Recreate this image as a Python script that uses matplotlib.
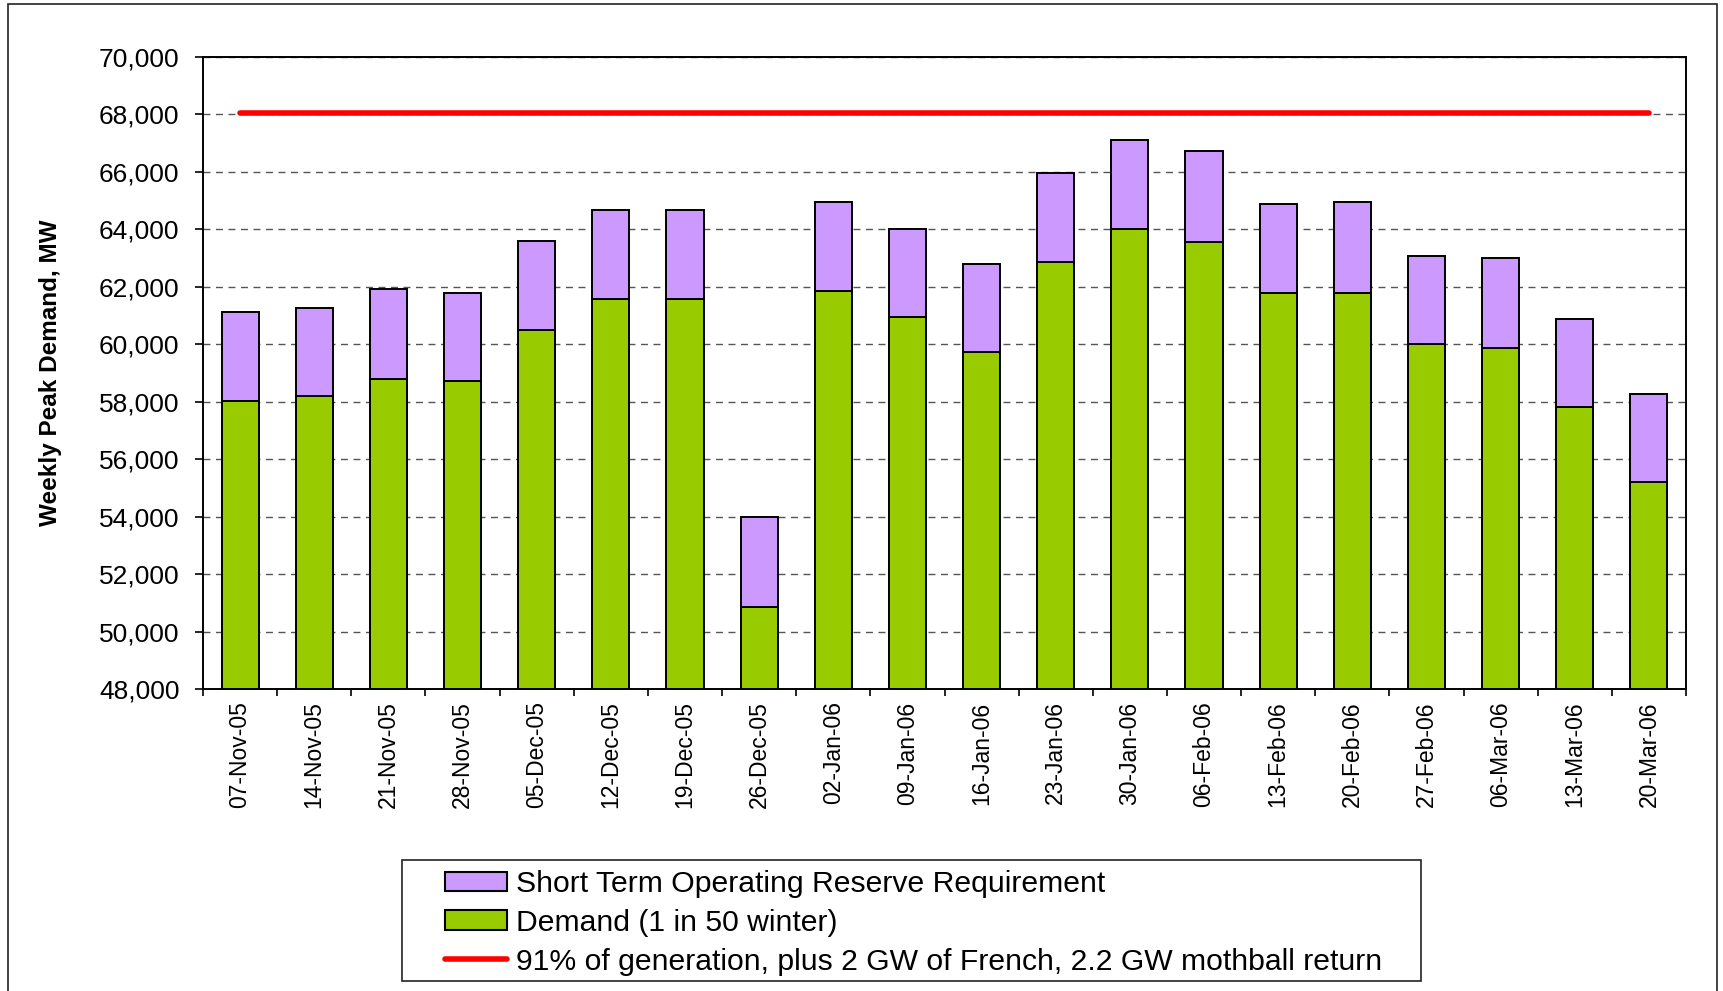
import matplotlib
matplotlib.use("Agg")
import matplotlib.pyplot as plt
from matplotlib.patches import Rectangle, Patch
from matplotlib.lines import Line2D
import numpy as np

plt.rcParams['font.family'] = ['Liberation Sans', 'DejaVu Sans']

weeks = ["07-Nov-05", "14-Nov-05", "21-Nov-05", "28-Nov-05", "05-Dec-05",
         "12-Dec-05", "19-Dec-05", "26-Dec-05", "02-Jan-06", "09-Jan-06",
         "16-Jan-06", "23-Jan-06", "30-Jan-06", "06-Feb-06", "13-Feb-06",
         "20-Feb-06", "27-Feb-06", "06-Mar-06", "13-Mar-06", "20-Mar-06"]
demand = [58010, 58190, 58780, 58710, 60510, 61590, 61590, 50840, 61850, 60960,
          59740, 62870, 64030, 63570, 61790, 61790, 60000, 59860, 57830, 55190]
reserve = [3130, 3080, 3130, 3080, 3070, 3070, 3070, 3130, 3090, 3070,
           3060, 3090, 3080, 3160, 3080, 3150, 3070, 3150, 3060, 3080]
capacity = [68060] * len(weeks)

label_reserve = "Short Term Operating Reserve Requirement"
label_demand = "Demand (1 in 50 winter)"
label_capacity = "91% of generation, plus 2 GW of French, 2.2 GW mothball return"

purple = "#CC99FF"
green = "#99CC00"
red = "#FF0000"

W, H = 1724, 991
fig = plt.figure(figsize=(W / 100, H / 100), dpi=100)
ax = fig.add_axes([203 / W, 1 - 689 / H, (1686 - 203) / W, (689 - 57) / H])

x = np.arange(len(weeks))
base = 48000
ax.bar(x, np.array(demand) - base, bottom=base, width=0.5, color=green,
       edgecolor="black", linewidth=1.4, zorder=3)
ax.bar(x, reserve, bottom=demand, width=0.5, color=purple,
       edgecolor="black", linewidth=1.4, zorder=3)
ax.plot(x, capacity, color=red, linewidth=4, solid_capstyle="round", zorder=4)

ax.set_xlim(-0.5, len(weeks) - 0.5)
ax.set_ylim(48000, 70000)
ax.set_yticks(np.arange(48000, 70001, 2000))
ax.set_yticklabels([f"{v:,}" for v in range(48000, 70001, 2000)], fontsize=19)
ax.yaxis.grid(True, linestyle=(0, (5, 4)), color="#555555", linewidth=1.0, zorder=0)
ax.set_axisbelow(True)

ax.set_xticks(np.arange(-0.5, len(weeks), 1.0))
ax.set_xticklabels([])
ax.set_xticks(x, minor=True)
ax.set_xticklabels(weeks, minor=True, rotation=90, fontsize=16.5, va="top")
ax.tick_params(axis="x", which="major", direction="out", length=5, width=1.2)
ax.tick_params(axis="x", which="minor", length=0, pad=9)
ax.tick_params(axis="y", direction="out", length=6, width=1.2, pad=11)

for s in ax.spines.values():
    s.set_linewidth(1.4)
    s.set_color("black")

ax.set_ylabel("Weekly Peak Demand, MW", fontsize=17.5, fontweight="bold")
ax.yaxis.set_label_coords((62 - 203) / (1686 - 203), 0.5)

# outer chart border
fig.patches.append(Rectangle((8 / W, -0.02), (1717 - 8) / W, 1.02 - 4 / H,
                             transform=fig.transFigure, fill=False,
                             edgecolor="#222222", linewidth=1.2))
# legend frame
fig.patches.append(Rectangle((402 / W, 1 - 981 / H), (1421 - 402) / W, (981 - 860) / H,
                             transform=fig.transFigure, fill=False,
                             edgecolor="#222222", linewidth=1.2))

handles = [Patch(facecolor=purple, edgecolor="black", linewidth=1.5),
           Patch(facecolor=green, edgecolor="black", linewidth=1.5),
           Line2D([0], [0], color=red, linewidth=4, solid_capstyle="round")]
leg = fig.legend(handles, [label_reserve, label_demand, label_capacity],
                 loc="upper left", bbox_to_anchor=(430 / W, 1 - 855 / H),
                 frameon=False, fontsize=21.7, handlelength=2.05, handleheight=0.64,
                 handletextpad=0.3, labelspacing=0.36, borderpad=0.0)

fig.savefig("out.png", dpi=100)
